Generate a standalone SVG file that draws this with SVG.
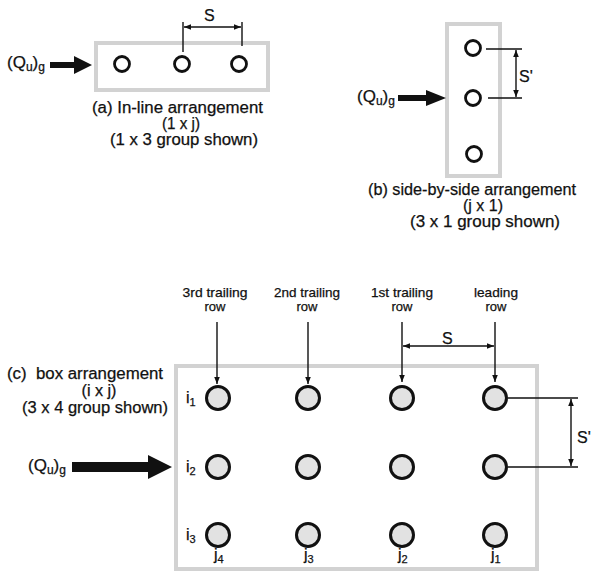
<svg xmlns="http://www.w3.org/2000/svg" width="591" height="574" viewBox="0 0 591 574">
<defs>
<marker id="ah" viewBox="0 0 10 10" refX="10" refY="5" markerWidth="7" markerHeight="7" orient="auto-start-reverse" markerUnits="userSpaceOnUse"><path d="M0,1 L10,5 L0,9 Z" fill="#111"/></marker>
</defs>
<style>
.box{fill:none;stroke:#d2d2d2;stroke-width:4}
.pa{fill:#fff;stroke:#111;stroke-width:2.8}
.pc{fill:#e2e2e2;stroke:#111;stroke-width:3}
.t{font-family:"Liberation Sans",Arial,sans-serif;font-size:16px;fill:#111;stroke:#111;stroke-width:0.25;text-anchor:middle}
.tl{font-family:"Liberation Sans",Arial,sans-serif;font-size:16px;fill:#111;stroke:#111;stroke-width:0.25}
.q{font-size:17px}
.h{font-family:"Liberation Sans Narrow","Liberation Sans",Arial,sans-serif;font-size:13px;fill:#111;stroke:#111;stroke-width:0.25;text-anchor:middle}
.dl{stroke:#111;stroke-width:1.4;fill:none}
.blk{fill:#111}
</style>
<g id="panel-a">
<rect class="box" x="96" y="43" width="172" height="47"/>
<circle class="pa" cx="122" cy="64" r="7.5"/>
<circle class="pa" cx="182" cy="64" r="7.5"/>
<circle class="pa" cx="239" cy="64" r="7.5"/>
<text class="tl q" x="7" y="68">(Q<tspan font-size="12" dy="3">u</tspan><tspan dy="-3">)</tspan><tspan font-size="12" dy="3">g</tspan></text>
<polygon class="blk" points="50,62 74,62 74,56 92,65 74,74 74,68 50,68"/>
<text class="t" x="177.5" y="113" textLength="171" lengthAdjust="spacingAndGlyphs">(a) In-line arrangement</text>
<text class="t" x="181" y="129" textLength="38" lengthAdjust="spacingAndGlyphs">(1 x j)</text>
<text class="t" x="184" y="145" textLength="148" lengthAdjust="spacingAndGlyphs">(1 x 3 group shown)</text>
</g>
<g id="panel-b">
<rect class="box" x="447" y="24" width="53" height="152"/>
<circle class="pa" cx="473" cy="48" r="7.5"/>
<circle class="pa" cx="473" cy="98" r="7.5"/>
<circle class="pa" cx="474" cy="154" r="7.5"/>
<text class="tl q" x="357" y="102">(Q<tspan font-size="12" dy="3">u</tspan><tspan dy="-3">)</tspan><tspan font-size="12" dy="3">g</tspan></text>
<polygon class="blk" points="398,95 426,95 426,90 446,98 426,106 426,101 398,101"/>
<text class="t" x="472" y="195" textLength="208" lengthAdjust="spacingAndGlyphs">(b) side-by-side arrangement</text>
<text class="t" x="483" y="211" textLength="40" lengthAdjust="spacingAndGlyphs">(j x 1)</text>
<text class="t" x="485" y="227" textLength="150" lengthAdjust="spacingAndGlyphs">(3 x 1 group shown)</text>
</g>
<g id="panel-c">
<rect class="box" x="176" y="366" width="361" height="203"/>
<g id="piles">
<circle class="pc" cx="218" cy="398" r="11.5"/>
<circle class="pc" cx="308" cy="398" r="11.5"/>
<circle class="pc" cx="402" cy="398" r="11.5"/>
<circle class="pc" cx="495" cy="398" r="11.5"/>
<circle class="pc" cx="218" cy="467" r="11.5"/>
<circle class="pc" cx="308" cy="467" r="11.5"/>
<circle class="pc" cx="402" cy="467" r="11.5"/>
<circle class="pc" cx="495" cy="467" r="11.5"/>
<circle class="pc" cx="218" cy="535" r="11.5"/>
<circle class="pc" cx="308" cy="535" r="11.5"/>
<circle class="pc" cx="402" cy="535" r="11.5"/>
<circle class="pc" cx="495" cy="535" r="11.5"/>
</g>
<text class="tl" x="186" y="403">i<tspan font-size="11" dy="3">1</tspan></text>
<text class="tl" x="186" y="472">i<tspan font-size="11" dy="3">2</tspan></text>
<text class="tl" x="186" y="540">i<tspan font-size="11" dy="3">3</tspan></text>
<text class="tl" x="214" y="560">j<tspan font-size="11" dy="3">4</tspan></text>
<text class="tl" x="304" y="560">j<tspan font-size="11" dy="3">3</tspan></text>
<text class="tl" x="398" y="560">j<tspan font-size="11" dy="3">2</tspan></text>
<text class="tl" x="491" y="560">j<tspan font-size="11" dy="3">1</tspan></text>
<text class="h" x="215" y="297" textLength="65" lengthAdjust="spacingAndGlyphs">3rd trailing</text>
<text class="h" x="215" y="311">row</text>
<text class="h" x="307" y="297" textLength="66" lengthAdjust="spacingAndGlyphs">2nd trailing</text>
<text class="h" x="307" y="311">row</text>
<text class="h" x="402" y="297" textLength="62" lengthAdjust="spacingAndGlyphs">1st trailing</text>
<text class="h" x="402" y="311">row</text>
<text class="h" x="496" y="297" textLength="44" lengthAdjust="spacingAndGlyphs">leading</text>
<text class="h" x="496" y="311">row</text>
<text class="tl" x="7" y="379" textLength="156" lengthAdjust="spacingAndGlyphs" xml:space="preserve">(c)  box arrangement</text>
<text class="t" x="99" y="396" textLength="35" lengthAdjust="spacingAndGlyphs">(i x j)</text>
<text class="tl" x="22" y="413" textLength="146" lengthAdjust="spacingAndGlyphs">(3 x 4 group shown)</text>
<text class="tl q" x="28" y="471">(Q<tspan font-size="12" dy="3">u</tspan><tspan dy="-3">)</tspan><tspan font-size="12" dy="3">g</tspan></text>
<polygon class="blk" points="72,462 148,462 148,455 172,467 148,479 148,472 72,472"/>
<text class="tl" x="442" y="344">S</text>
<text class="tl" x="577" y="443">S'</text>
</g>
<g id="connectors">
<path class="dl" d="M183,52 V22 M242,46 V22"/>
<path class="dl" d="M184,27 H241" marker-start="url(#ah)" marker-end="url(#ah)"/>
<text class="tl" x="204" y="21">S</text>
<path class="dl" d="M486,49 H522 M488,98 H522"/>
<path class="dl" d="M516,50 V97" marker-start="url(#ah)" marker-end="url(#ah)"/>
<text class="tl" x="519" y="82">S'</text>
<path class="dl" d="M217,322 V384" marker-end="url(#ah)"/>
<path class="dl" d="M308,322 V384" marker-end="url(#ah)"/>
<path class="dl" d="M402,322 V382" marker-end="url(#ah)"/>
<path class="dl" d="M495,322 V382" marker-end="url(#ah)"/>
<path class="dl" d="M403,346 H494" marker-start="url(#ah)" marker-end="url(#ah)"/>
<path class="dl" d="M508,398 H578 M508,467 H578"/>
<path class="dl" d="M571,399 V466" marker-start="url(#ah)" marker-end="url(#ah)"/>
</g>
</svg>
